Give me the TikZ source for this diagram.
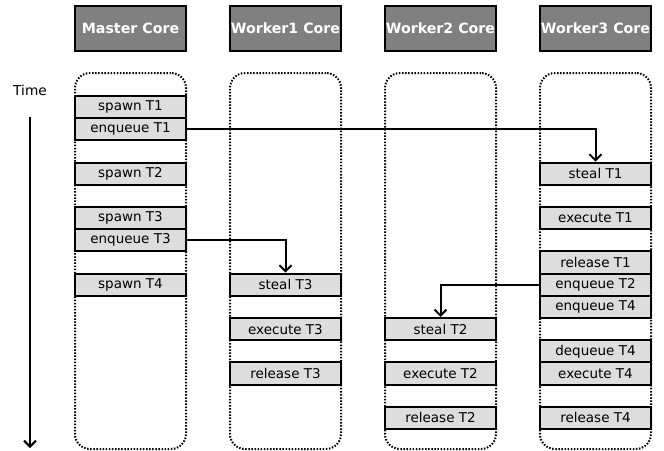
\documentclass[tikz,border=0pt]{standalone}
\usepackage{fontspec}
\setmainfont{DejaVu Sans}
\usetikzlibrary{arrows.meta}
\definecolor{headgray}{RGB}{128,128,128}
\definecolor{taskgray}{RGB}{221,221,221}
\tikzset{
  header/.style={draw=black, line width=2pt, fill=headgray, text=white,
    minimum width=111pt, minimum height=45pt, inner sep=0pt, anchor=north west,
    font=\fontsize{14.2}{16}\selectfont\bfseries},
  lane/.style={draw=black, line width=2pt, dash pattern=on 1.5pt off 1.6pt,
    rounded corners=15pt, minimum width=111pt, minimum height=376pt,
    inner sep=0pt, anchor=north west},
  task/.style={draw=black, line width=2pt, fill=taskgray,
    minimum width=111pt, minimum height=22.2pt, inner sep=0pt, anchor=north west,
    font=\fontsize{13.5}{15}\selectfont},
  arr/.style={line width=2pt, -{Straight Barb[length=6pt,width=12pt]}}
}
\begin{document}
\begin{tikzpicture}[x=1pt,y=-1pt]
\useasboundingbox (0,0) rectangle (664,450);
% headers
\node[header] (hm) at (74,5) {Master Core};
\node[header] (hw1) at (229,5) {Worker1 Core};
\node[header] (hw2) at (384,5) {Worker2 Core};
\node[header] (hw3) at (539,5) {Worker3 Core};
% lanes
\node[lane] (lm) at (74,72) {};
\node[lane] (lw1) at (229,72) {};
\node[lane] (lw2) at (384,72) {};
\node[lane] (lw3) at (539,72) {};
% time axis
\node[font=\fontsize{13.7}{15}\selectfont] (time) at (30,90) {Time};
\coordinate (ttop) at (30,117);
\coordinate (tbot) at (30,448);
\draw[arr] (ttop) -- (tbot);
% master tasks
\node[task] (spT1) at (74,95) {spawn T1};
\node[task] (enqT1) at (74,117.2) {enqueue T1};
\node[task] (spT2) at (74,161.6) {spawn T2};
\node[task] (spT3) at (74,206) {spawn T3};
\node[task] (enqT3) at (74,228.2) {enqueue T3};
\node[task] (spT4) at (74,272.6) {spawn T4};
% worker1
\node[task] (stT3) at (229,272.6) {steal T3};
\node[task] (exT3) at (229,317) {execute T3};
\node[task] (relT3) at (229,361.4) {release T3};
% worker2
\node[task] (stT2) at (384,317) {steal T2};
\node[task] (exT2) at (384,361.4) {execute T2};
\node[task] (relT2) at (384,405.8) {release T2};
% worker3
\node[task] (stT1) at (539,161.6) {steal T1};
\node[task] (exT1) at (539,206) {execute T1};
\node[task] (relT1) at (539,250.4) {release T1};
\node[task] (enqT2) at (539,272.6) {enqueue T2};
\node[task] (enqT4) at (539,294.8) {enqueue T4};
\node[task] (deqT4) at (539,339.2) {dequeue T4};
\node[task] (exT4) at (539,361.4) {execute T4};
\node[task] (relT4) at (539,405.8) {release T4};
% connectors
\draw[arr] (enqT1.east) -| (stT1.north);
\draw[arr] (enqT3.east) -| (stT3.north);
\draw[arr] (enqT2.west) -| (stT2.north);
\end{tikzpicture}
\end{document}
